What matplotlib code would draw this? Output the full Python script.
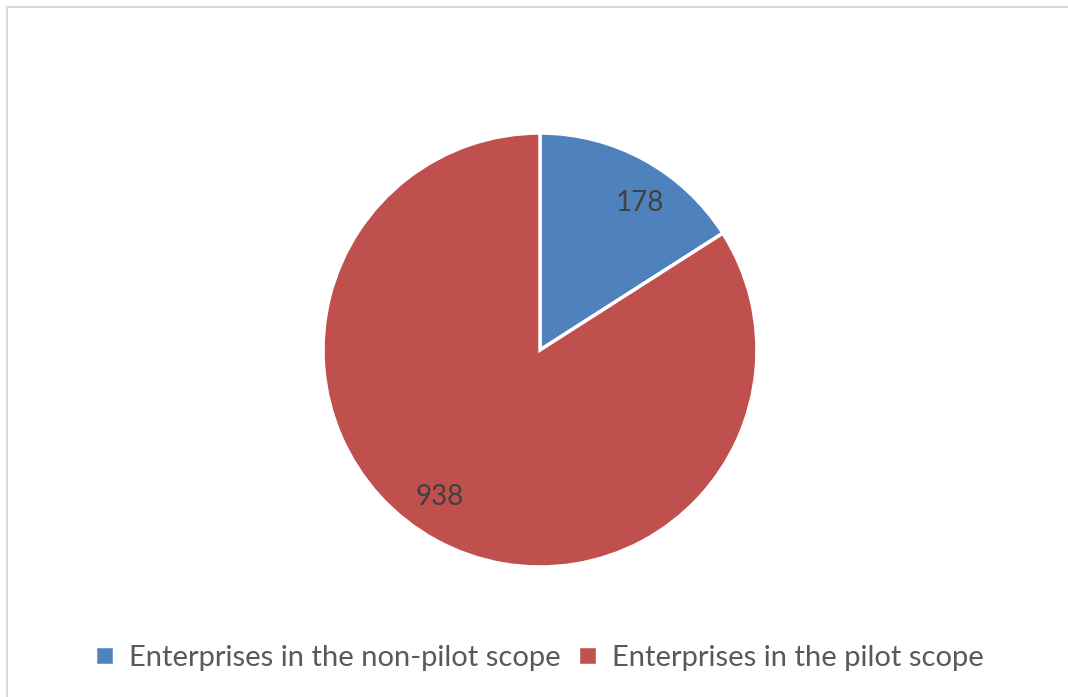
import numpy as np
import matplotlib.pyplot as plt
from matplotlib.patches import Rectangle

labels = ["Enterprises in the non-pilot scope", "Enterprises in the pilot scope"]
values = [178, 938]
colors = ["#4F81BD", "#C0504D"]

plt.rcParams['font.family'] = ['Lato', 'DejaVu Sans']

fig = plt.figure(figsize=(10.68, 6.97), dpi=100)

# light grey chart frame (runs off the right and bottom edge)
fig.patches.append(Rectangle((7 / 1068, -0.01), 1.02, (697 - 7) / 697 + 0.01,
                             transform=fig.transFigure, fill=False,
                             edgecolor="#D9D9D9", linewidth=1.5))

ax = fig.add_axes([323 / 1068, (697 - 567) / 697, 434 / 1068, 434 / 697])
wedges, texts = ax.pie(values, colors=colors, startangle=90, counterclock=False,
                       labels=[str(v) for v in values], labeldistance=0.82,
                       wedgeprops=dict(edgecolor="white", linewidth=2.5),
                       textprops=dict(fontsize=20, color="#404040"))
# excel "best fit" puts the labels a bit clockwise of the wedge middle
for w, t in zip(wedges, texts):
    ang = np.deg2rad((w.theta1 + w.theta2) / 2 - 5.5)
    t.set_position((0.82 * np.cos(ang), 0.82 * np.sin(ang)))
    t.set_ha("center")
    t.set_va("center")
ax.set_xlim(-1.0, 1.0)
ax.set_ylim(-1.0, 1.0)
ax.set_aspect("equal")

fig.legend(wedges, labels, loc="center", bbox_to_anchor=(0.505, (697 - 658) / 697),
           ncol=2, frameon=False, fontsize=21, labelcolor="#595959",
           handlelength=0.65, handleheight=0.65, handletextpad=0.5,
           columnspacing=0.6)

fig.savefig("out.png", dpi=100)
